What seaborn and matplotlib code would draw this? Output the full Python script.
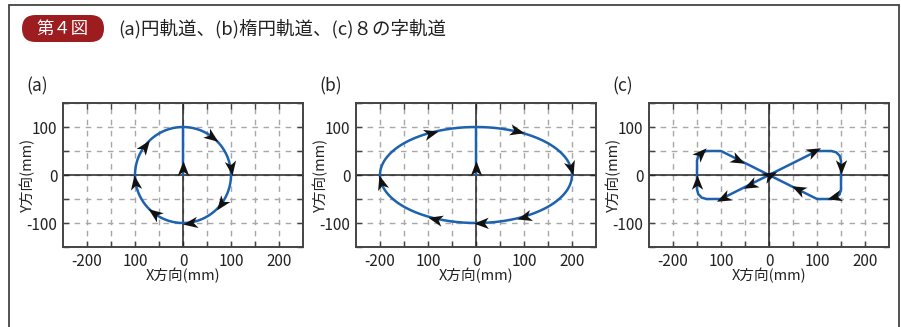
import numpy as np
import pandas as pd
import seaborn as sns
import matplotlib.pyplot as plt
from matplotlib.path import Path
from matplotlib.markers import MarkerStyle
from matplotlib.transforms import Affine2D, IdentityTransform
from matplotlib.patches import FancyBboxPatch
from matplotlib.lines import Line2D

# ---- data ----
panel_labels = ["(a)", "(b)", "(c)"]
title_badge = "第４図"
title_text = "(a)円軌道、(b)楕円軌道、(c)８の字軌道"

# (a) circle: radius 100, start at origin, go up to top, then clockwise
circle_radius = 100
circle_arrow_x = [0, 60, 99, 80, 14, -60, -99, -80]
circle_arrow_y = [14, 80, 14, -60, -99, -80, -14, 60]

# (b) ellipse: semi axes 200 x 100
ellipse_ax = 200
ellipse_by = 100
ellipse_arrow_x = [0, -94, 86, 198, 99, 10, -85, -197]
ellipse_arrow_y = [14, 88, 91, 14, -87, -100, -91, -15]

# (c) figure eight waypoints
eight_x = [0, 100, 130, 140, 147.3, 150, 150, 147.3, 140, 130, 100, 0,
           -100, -130, -140, -147.3, -150, -150, -147.3, -140, -130, -100, 0]
eight_y = [0, 50, 50, 47.3, 40, 30, -30, -40, -47.3, -50, -50, 0,
           -50, -50, -47.3, -40, -30, 30, 40, 47.3, 50, 50, 0]
eight_arrow_x = [2, 93, 149, 136, 60, -40, -95, -150, -142, -65]
eight_arrow_y = [1, 50, 16, -46, -30, -20, -47.5, -15, 45, 32]

x_ticks = [-200, -100, 0, 100, 200]
x_tick_labels = ["-200", "100", "0", "100", "200"]
y_ticks = [-100, 0, 100]
y_tick_labels = ["-100", "0", "100"]


def circle_path(r):
    t = np.deg2rad(np.linspace(90, -270, 361))
    x = np.concatenate([[0, 0], r * np.cos(t)])
    y = np.concatenate([[0, r], r * np.sin(t)])
    return x, y


def ellipse_path(a, b):
    t = np.deg2rad(np.linspace(90, -270, 361))
    x = np.concatenate([[0, 0], a * np.cos(t)])
    y = np.concatenate([[0, b], b * np.sin(t)])
    return x, y


def tangent_at(px, py, x, y):
    """direction (deg) of the path segment nearest to the point"""
    x = np.asarray(x, float)
    y = np.asarray(y, float)
    best, ang = 1e18, 0
    for i in range(len(x) - 1):
        dx, dy = x[i + 1] - x[i], y[i + 1] - y[i]
        L2 = dx * dx + dy * dy
        if L2 == 0:
            continue
        t = np.clip(((px - x[i]) * dx + (py - y[i]) * dy) / L2, 0, 1)
        d = (x[i] + t * dx - px) ** 2 + (y[i] + t * dy - py) ** 2
        if d < best - 1e-9:
            best, ang = d, np.degrees(np.arctan2(dy, dx))
    return ang


arrow_path = Path([(1, 0), (-1, 0.78), (-0.45, 0), (-1, -0.78), (1, 0)],
                  [Path.MOVETO, Path.LINETO, Path.LINETO, Path.LINETO, Path.CLOSEPOLY])

sns.set_theme(style="white")
plt.rcParams['font.family'] = ['Noto Sans CJK JP', 'DejaVu Sans']

W, H = 901, 327
fig = plt.figure(figsize=(W / 100, H / 100), dpi=100)

blue = "#1d62ae"
axes_left = [63, 356, 649]
paths = [circle_path(circle_radius), ellipse_path(ellipse_ax, ellipse_by), (eight_x, eight_y)]
arrows = [(circle_arrow_x, circle_arrow_y), (ellipse_arrow_x, ellipse_arrow_y),
          (eight_arrow_x, eight_arrow_y)]

for k in range(3):
    ax = fig.add_axes([axes_left[k] / W, (H - 247) / H, 240 / W, 144 / H])
    px, py = paths[k]
    ax.axhline(0, color="#222222", lw=1.1, zorder=2)
    ax.axvline(0, color="#222222", lw=1.1, zorder=2)
    df = pd.DataFrame({"x": px, "y": py})
    sns.lineplot(data=df, x="x", y="y", sort=False, estimator=None,
                 color=blue, lw=1.8, ax=ax, zorder=3)
    for axx, ayy in zip(*arrows[k]):
        a = tangent_at(axx, ayy, px, py)
        m = MarkerStyle(arrow_path, transform=Affine2D().rotate_deg(a))
        ax.plot([axx], [ayy], marker=m, markersize=10.5, color="#111111",
                markeredgewidth=0, linestyle="none", zorder=4)

    ax.set_xlim(-250, 250)
    ax.set_ylim(-150, 150)
    ax.set_xticks(x_ticks)
    ax.set_xticklabels(x_tick_labels)
    ax.set_yticks(y_ticks)
    ax.set_yticklabels(y_tick_labels)
    ax.set_xticks(np.arange(-200, 201, 50), minor=True)
    ax.set_yticks([-150, -100, -50, 0, 50, 100, 150], minor=True)
    ax.grid(True, which="both", linestyle=(0, (4, 4)), color="#a8a8a8", lw=1.0)
    ax.tick_params(which="both", direction="in", length=4, width=1,
                   color="#444444", top=True, right=True, bottom=True, left=True,
                   labelsize=11, pad=4, labelcolor="#222222")
    for s in ax.spines.values():
        s.set_color("#444444")
        s.set_linewidth(1.4)
    ax.set_xlabel("X方向(mm)", fontsize=10.5, labelpad=-1, color="#222222")
    ax.set_ylabel("Y方向(mm)", fontsize=10.5, color="#222222", va="center")
    ax.yaxis.set_label_coords(-36 / 240, 0.5)
    fig.text((axes_left[k] - 37) / W, 1 - 86 / H, panel_labels[k], fontsize=12.5,
             va="center", ha="left", color="#222222")

# title badge + text
fig.add_artist(FancyBboxPatch((22, H - 42), 82, 27,
                              boxstyle="round,pad=0,rounding_size=13.5",
                              transform=IdentityTransform(),
                              facecolor="#9d1c20", edgecolor="none"))
fig.text(63 / W, 1 - 29 / H, title_badge, color="white", fontsize=12.5,
         ha="center", va="center")
fig.text(118 / W, 1 - 29 / H, title_text, color="#222222", fontsize=13.3,
         ha="left", va="center")

# outer frame
fig.add_artist(Line2D([9, 899], [H - 5, H - 5], transform=IdentityTransform(), color="#444444", lw=1.3))
fig.add_artist(Line2D([9, 9], [0, H - 5], transform=IdentityTransform(), color="#444444", lw=1.3))
fig.add_artist(Line2D([899, 899], [0, H - 5], transform=IdentityTransform(), color="#444444", lw=1.3))

fig.savefig("out.png", dpi=100)
